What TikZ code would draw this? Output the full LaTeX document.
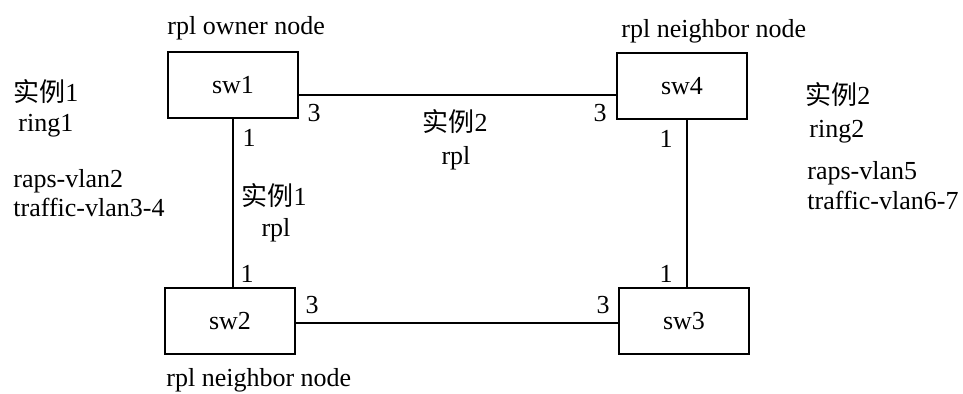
\documentclass[tikz,border=0pt]{standalone}
\usepackage{fontspec}
\setmainfont{Liberation Serif}
\newfontfamily\cjk{Noto Sans CJK SC}
\usepackage{tikz}

\tikzset{
    switch/.style={draw, line width=0.9pt, minimum width=65pt, minimum height=33pt, inner sep=0pt},
    port/.style={inner sep=0pt},
    info/.style={inner sep=0pt, anchor=base west},
    midinfo/.style={inner sep=0pt, anchor=base},
    link/.style={line width=0.9pt},
}

\begin{document}
\begin{tikzpicture}[x=0.5pt, y=-0.5pt, font=\fontsize{13}{15}\selectfont]
    \useasboundingbox (0, 0) rectangle (963, 394);

    \node[switch] (sw1) at (233, 85) {sw1};
    \node[switch] (sw4) at (682, 86) {sw4};
    \node[switch] (sw2) at (230, 321) {sw2};
    \node[switch] (sw3) at (684, 321) {sw3};

    \draw[link] ([yshift=-5pt]sw1.east) -- ([yshift=-5pt]sw1.east -| sw4.west);
    \draw[link] (sw1.south) -- (sw1.south |- sw2.north);
    \draw[link] ([xshift=1.5pt]sw3.north |- sw4.south) -- ([xshift=1.5pt]sw3.north);
    \draw[link] ([yshift=-1pt]sw2.east) -- ([yshift=-1pt]sw2.east -| sw3.west);

    \node[port] (sw1p3) at (314, 113) {3};
    \node[port] (sw1p1) at (249, 138) {1};
    \node[port] (sw4p3) at (600, 113) {3};
    \node[port] (sw4p1) at (666, 139) {1};
    \node[port] (sw2p1) at (247, 274) {1};
    \node[port] (sw2p3) at (312, 305) {3};
    \node[port] (sw3p3) at (603, 305) {3};
    \node[port] (sw3p1) at (666, 274) {1};

    \node[info] (owner) at (167, 35) {rpl owner node};
    \node[info] (neighbortop) at (621, 38) {rpl neighbor node};
    \node[info] (neighborbot) at (166, 387) {rpl neighbor node};

    \node[info] (ring1a) at (13, 102) {{\cjk 实例}1};
    \node[info] (ring1b) at (18, 132) {ring1};
    \node[info] (ring1c) at (13, 188) {raps-vlan2};
    \node[info] (ring1d) at (13, 217) {traffic-vlan3-4};

    \node[info] (ring2a) at (805, 105) {{\cjk 实例}2};
    \node[info] (ring2b) at (809, 138) {ring2};
    \node[info] (ring2c) at (807, 180) {raps-vlan5};
    \node[info] (ring2d) at (807, 210) {traffic-vlan6-7};

    \node[midinfo] (rpl2a) at (455, 132) {{\cjk 实例}2};
    \node[midinfo] (rpl2b) at (456, 165) {rpl};
    \node[midinfo] (rpl1a) at (274, 206) {{\cjk 实例}1};
    \node[midinfo] (rpl1b) at (276, 237) {rpl};
\end{tikzpicture}
\end{document}
